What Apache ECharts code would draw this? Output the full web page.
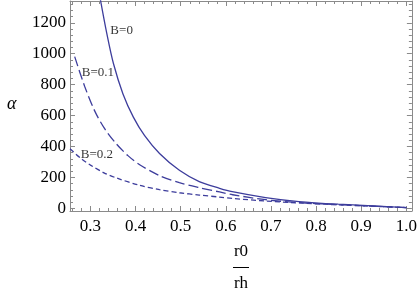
<!DOCTYPE html>
<html>
<head>
<meta charset="utf-8">
<script src="https://cdn.jsdelivr.net/npm/echarts@6/dist/echarts.min.js"></script>
<style>html,body{margin:0;padding:0;background:#fff}#c{width:420px;height:296px}</style>
</head>
<body>
<div id="c"></div>
<script>
// ---- data ----
const xB0 = [0.322, 0.336, 0.351, 0.372, 0.395, 0.42, 0.453, 0.497, 0.541, 0.586, 0.614, 0.688, 0.762, 0.849, 1.0];
const yB0 = [1349, 1133, 935, 740, 590, 470, 355, 246, 173, 130, 108, 70, 44, 27, 5];
const xB01 = [0.265, 0.287, 0.309, 0.331, 0.357, 0.383, 0.409, 0.453, 0.497, 0.541, 0.586, 0.615, 0.688, 0.762, 0.85, 1.0];
const yB01 = [981, 790, 632, 517, 418, 341, 282, 212, 166, 134, 106, 88, 56, 37, 24, 5];
const xB02 = [0.2546, 0.28, 0.30, 0.33, 0.359, 0.409, 0.453, 0.497, 0.541, 0.586, 0.615, 0.688, 0.762, 0.85, 1.0];
const yB02 = [385, 320, 280, 230, 195, 149, 121, 101, 86, 73, 64, 48, 35, 23, 5];
const seriesNames = ['B=0', 'B=0.1', 'B=0.2'];
const xMajor = [0.3, 0.4, 0.5, 0.6, 0.7, 0.8, 0.9, 1.0];
const xMinor = [0.26,0.28,0.32,0.34,0.36,0.38,0.42,0.44,0.46,0.48,0.52,0.54,0.56,0.58,0.62,0.64,0.66,0.68,0.72,0.74,0.76,0.78,0.82,0.84,0.86,0.88,0.92,0.94,0.96,0.98];
const yMajor = [0, 200, 400, 600, 800, 1000, 1200];
const yMinor = [40,80,120,160,240,280,320,360,440,480,520,560,640,680,720,760,840,880,920,960,1040,1080,1120,1160,1240,1280,1320];
const annText = ['B=0', 'B=0.1', 'B=0.2'];
const annX = [0.369, 0.3166, 0.3144];
const annY = [1149, 875, 345];

// ---- chart ----
const X_MIN = 0.2546, X_MAX = 1.0122, Y_MIN = -17, Y_MAX = 1341;
const frameColor = '#8a8a8a';
const lineColor = '#3d3d9c';
const serif = 'Liberation Serif';
const tickRich = { t: { fontFamily: serif, fontSize: 17, color: '#000' } };

function pairs(xs, ys) { return xs.map((x, i) => [x, ys[i]]); }

function xAx(pos, ticks, len, labels, line) {
  return {
    type: 'value', position: pos, min: X_MIN, max: X_MAX, gridIndex: 0,
    axisLine: { show: line, onZero: false, lineStyle: { color: frameColor, width: 1 } },
    axisTick: { show: true, inside: true, length: len, customValues: ticks, lineStyle: { color: frameColor, width: 1 } },
    axisLabel: labels ? { show: true, customValues: xMajor, formatter: v => '{t|' + v.toFixed(1) + '}', rich: tickRich, fontFamily: serif, fontSize: 17, color: '#000', margin: 7 } : { show: false },
    splitLine: { show: false }
  };
}
function yAx(pos, ticks, len, labels, line) {
  return {
    type: 'value', position: pos, min: Y_MIN, max: Y_MAX, gridIndex: 0,
    axisLine: { show: line, onZero: false, lineStyle: { color: frameColor, width: 1 } },
    axisTick: { show: true, inside: true, length: len, customValues: ticks, lineStyle: { color: frameColor, width: 1 } },
    axisLabel: labels ? { show: true, customValues: yMajor, formatter: v => '{t|' + String(Math.round(v)) + '}', rich: tickRich, fontFamily: serif, fontSize: 17, color: '#000', margin: 4 } : { show: false },
    splitLine: { show: false }
  };
}

const chart = echarts.init(document.getElementById('c'), null, { renderer: 'canvas' });
const dataSets = [pairs(xB0, yB0), pairs(xB01, yB01), pairs(xB02, yB02)];
const dashes = ['solid', [10, 4], [5, 3]];

const series = dataSets.map((d, i) => ({
  name: seriesNames[i], type: 'line', data: d, xAxisIndex: 0, yAxisIndex: 0,
  showSymbol: false, symbol: 'none', smooth: 0.3, clip: true,
  lineStyle: { color: lineColor, width: 1.3, type: dashes[i] },
  animation: false
}));
series.push({
  type: 'scatter', xAxisIndex: 0, yAxisIndex: 0, symbolSize: 0, silent: true,
  data: annText.map((t, i) => ({ value: [annX[i], annY[i]], label: { show: true, formatter: t, position: 'inside', fontFamily: serif, fontSize: 13, color: '#000' } })),
  animation: false
});

chart.setOption({
  animation: false,
  textStyle: { fontFamily: serif },
  grid: { left: 70, right: 8, top: 1, bottom: 85, containLabel: false },
  xAxis: [
    xAx('bottom', xMajor, 5, true, true),
    xAx('bottom', xMinor, 3, false, false),
    xAx('top', xMajor, 5, false, true),
    xAx('top', xMinor, 3, false, false)
  ],
  yAxis: [
    yAx('left', yMajor, 5, true, true),
    yAx('left', yMinor, 3, false, false),
    yAx('right', yMajor, 5, false, true),
    yAx('right', yMinor, 3, false, false)
  ],
  series: series,
  graphic: [
    { type: 'text', left: 7, top: 95, style: { text: 'α', font: 'italic 18px ' + serif, fill: '#000' } },
    { type: 'text', x: 241, y: 252, style: { text: 'r0', font: '17px ' + serif, fill: '#000', align: 'center', verticalAlign: 'middle' } },
    { type: 'line', shape: { x1: 233, y1: 267.5, x2: 249, y2: 267.5 }, style: { stroke: '#000', lineWidth: 1 } },
    { type: 'text', x: 241, y: 284, style: { text: 'rh', font: '17px ' + serif, fill: '#000', align: 'center', verticalAlign: 'middle' } }
  ]
});
</script>
</body>
</html>
